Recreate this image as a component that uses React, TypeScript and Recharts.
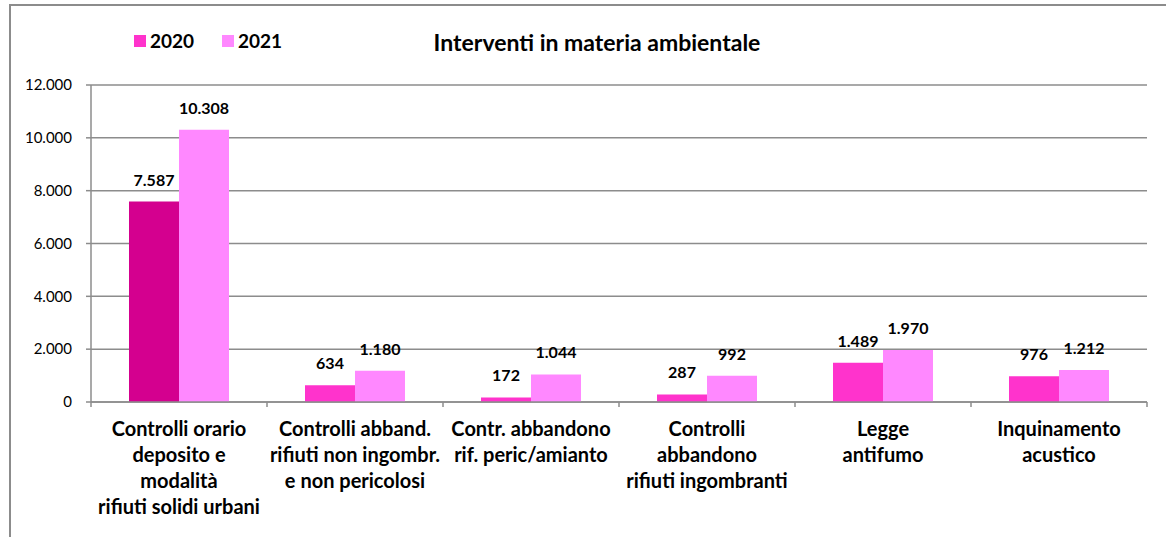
import React from 'react';
import { BarChart, Bar, XAxis, YAxis, CartesianGrid, LabelList, Cell } from 'recharts';

const categories = [
  'Controlli orario\ndeposito e\nmodalità\nrifiuti solidi urbani',
  'Controlli abband.\nrifiuti non ingombr.\ne non pericolosi',
  'Contr. abbandono\nrif. peric/amianto',
  'Controlli\nabbandono\nrifiuti ingombranti',
  'Legge\nantifumo',
  'Inquinamento\nacustico',
];
const values2020 = [7587, 634, 172, 287, 1489, 976];
const values2021 = [10308, 1180, 1044, 992, 1970, 1212];
const yTicks = [0, 2000, 4000, 6000, 8000, 10000, 12000];
const title = 'Interventi in materia ambientale';
const seriesNames = ['2020', '2021'];

const data = categories.map((c, i) => ({ name: c, v2020: values2020[i], v2021: values2021[i] }));

const FONT = 'Lato, "Open Sans", sans-serif';
const GRID = '#8c8c8c';
const fmt = (v: any) => Number(v).toLocaleString('de-DE');

const CatTick = (props: any) => {
  const { x, y, payload, index, width, visibleTicksCount } = props;
  const lines = String(payload.value).split('\n');
  const n = visibleTicksCount || categories.length;
  const band = (width || 1056) / n;
  const axisY = y - 8;
  return (
    <g>
      <line x1={x - band / 2} x2={x - band / 2} y1={axisY} y2={axisY + 5} stroke={GRID} strokeWidth={1.5} />
      {index === n - 1 && (
        <line x1={x + band / 2} x2={x + band / 2} y1={axisY} y2={axisY + 5} stroke={GRID} strokeWidth={1.5} />
      )}
      <text x={x} y={y} textAnchor="middle" fontFamily={FONT} fontWeight="bold" fontSize={20} fill="#000">
        {lines.map((l, i) => (
          <tspan key={i} x={x} dy={i === 0 ? 26 : 26}>{l}</tspan>
        ))}
      </text>
    </g>
  );
};

export default function App() {
  return (
    <div style={{ position: 'fixed', left: 0, top: 0, width: 1166, height: 537, overflow: 'hidden', background: '#fff' }}>
      <div style={{ position: 'absolute', left: 9, top: 4, width: 1200, height: 600, border: '2px solid #8c8c8c', boxSizing: 'border-box' }} />
      <div style={{ position: 'absolute', left: 0, top: 0 }}>
        <BarChart width={1166} height={537} data={data} margin={{ top: 85, right: 19, left: 31, bottom: 15 }} barCategoryGap={38} barGap={0}>
          <CartesianGrid vertical={false} stroke={GRID} strokeWidth={1.5} />
          <XAxis dataKey="name" interval={0} tick={<CatTick />} tickLine={false} axisLine={{ stroke: GRID, strokeWidth: 1.5 }} height={120} />
          <YAxis domain={[0, 12000]} ticks={yTicks} tickFormatter={fmt} width={60} tickSize={5} tickMargin={14}
            tick={{ fontFamily: FONT, fontSize: 15, fill: '#000' }} axisLine={{ stroke: GRID, strokeWidth: 1.5 }} tickLine={{ stroke: GRID, strokeWidth: 1.5 }} />
          <Bar dataKey="v2020" name={seriesNames[0]} fill="#ff33cc" isAnimationActive={false}>
            {data.map((_, i) => (
              <Cell key={i} fill={i === 0 ? '#d4008f' : '#ff33cc'} />
            ))}
            <LabelList dataKey="v2020" position="top" offset={16} formatter={fmt} style={{ fontFamily: FONT, fontWeight: 'bold', fontSize: 16, fill: '#000' }} />
          </Bar>
          <Bar dataKey="v2021" name={seriesNames[1]} fill="#ff88ff" isAnimationActive={false}>
            <LabelList dataKey="v2021" position="top" offset={16} formatter={fmt} style={{ fontFamily: FONT, fontWeight: 'bold', fontSize: 16, fill: '#000' }} />
          </Bar>
        </BarChart>
      </div>
      <div style={{ position: 'absolute', left: 134, top: 35, width: 12, height: 12, background: '#ff33cc' }} />
      <div style={{ position: 'absolute', left: 150, top: 29, fontFamily: FONT, fontWeight: 'bold', fontSize: 19, lineHeight: '24px', color: '#000' }}>{seriesNames[0]}</div>
      <div style={{ position: 'absolute', left: 222, top: 35, width: 12, height: 12, background: '#ff88ff' }} />
      <div style={{ position: 'absolute', left: 238, top: 29, fontFamily: FONT, fontWeight: 'bold', fontSize: 19, lineHeight: '24px', color: '#000' }}>{seriesNames[1]}</div>
      <div style={{ position: 'absolute', left: 347, width: 500, top: 28, textAlign: 'center', fontFamily: FONT, fontWeight: 'bold', fontSize: 23, lineHeight: '28px', color: '#000' }}>{title}</div>
    </div>
  );
}
